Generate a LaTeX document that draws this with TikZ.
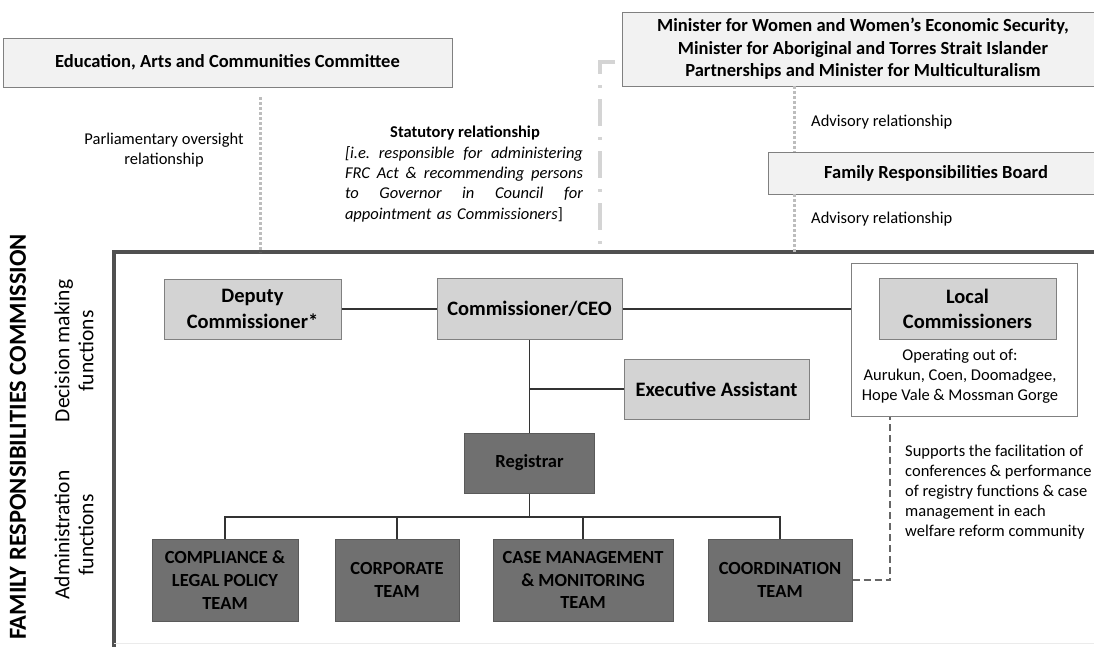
\documentclass[tikz,border=0pt]{standalone}
\usepackage{fontspec}
\setmainfont{Carlito}
\usetikzlibrary{calc}
\frenchspacing
\definecolor{topfill}{HTML}{F2F2F2}
\definecolor{lightfill}{HTML}{D3D3D3}
\definecolor{darkfill}{HTML}{707070}
\definecolor{darkline}{HTML}{5A5A5A}
\definecolor{boxline}{HTML}{808080}
\definecolor{frameline}{HTML}{505050}
\definecolor{dotline}{HTML}{BDBDBD}
\definecolor{dashdotc}{HTML}{D4D4D4}
\tikzset{
  topbox/.style={draw=boxline, fill=topfill, line width=0.9pt, inner sep=0pt, align=center,
    font=\fontsize{18.5}{22.5}\selectfont\bfseries},
  lightbox/.style={draw=boxline, fill=lightfill, line width=1pt, inner sep=0pt, align=center,
    font=\fontsize{20.5}{25.5}\selectfont\bfseries},
  darkbox/.style={draw=darkline, fill=darkfill, line width=1pt, inner sep=0pt, align=center,
    font=\fontsize{18.5}{22.7}\selectfont\bfseries},
  outerbox/.style={draw=boxline, fill=white, line width=1pt, inner sep=0pt},
  link/.style={draw=black!80, line width=1.1pt},
  dotrel/.style={draw=dotline, line width=3pt, dash pattern=on 2.5pt off 2.5pt},
  statrel/.style={draw=dashdotc, line width=3.5pt, dash pattern=on 27pt off 11pt on 3pt off 11pt},
  supportrel/.style={draw=black!60, line width=1.3pt, dash pattern=on 7pt off 4pt},
  lbl/.style={font=\fontsize{16.5}{20}\selectfont, align=center, inner sep=0pt},
}
\begin{document}
\begin{tikzpicture}[x=1pt, y=-1pt]
\useasboundingbox (0,0) rectangle (1094,646);
\clip (0,0) rectangle (1094,646);

% frame of the commission
\coordinate (ftop) at (114,252);
\draw[frameline, line width=3.5pt] (1110,252) -- (ftop) -- (114,660);
\draw[black!8, line width=1pt] (114,643) -- (1110,643);

% top boxes
\node[topbox, minimum width=449pt, minimum height=49pt] (edu) at (227.5,62.5)
  {Education, Arts and Communities Committee};
\node[topbox, minimum width=482pt, minimum height=74pt] (min) at (863,49)
  {Minister for Women and Women’s Economic Security,\\
   Minister for Aboriginal and Torres Strait Islander\\
   Partnerships and Minister for Multiculturalism};
\node[topbox, minimum width=336pt, minimum height=42pt] (frb) at (936,173)
  {Family Responsibilities Board};

% relationships above the frame
\coordinate (parlA) at (260,97);
\draw[dotrel] (parlA) -- (parlA |- ftop);
\coordinate (advx) at (794,0);
\draw[dotrel] (min.south -| advx) -- (frb.north -| advx);
\draw[dotrel] (frb.south -| advx) -- (advx |- ftop);
\coordinate (statA) at (615,62);
\coordinate (statB) at (600,252);
\draw[statrel, line join=miter] (statA) -| (statB);

\node[lbl] (parl) at (164,150) {Parliamentary oversight\\relationship};
\node[font=\fontsize{16.5}{20}\selectfont\bfseries, inner sep=0pt] (stath) at (465,133) {Statutory relationship};
\node[text width=238pt, inner sep=0pt, align=left, font=\fontsize{16.5}{20.4}\selectfont\itshape] (statt) at (464,184)
  {\makebox[238pt][l]{[i.e. \hfill responsible \hfill for \hfill administering}\\
   \makebox[238pt][l]{FRC \hfill Act \hfill \& \hfill recommending \hfill persons}\\
   \makebox[238pt][l]{to \hfill Governor \hfill in \hfill Council \hfill for}\\
   appointment as Commissioners\upshape]};
\node[lbl, anchor=west] (adv1) at (811,122) {Advisory relationship};
\node[lbl, anchor=west] (adv2) at (811,219) {Advisory relationship};

% side labels
\node[rotate=90, inner sep=0pt, font=\fontsize{24.5}{30}\selectfont\bfseries] (title) at (18,437)
  {FAMILY RESPONSIBILITIES COMMISSION};
\node[rotate=90, inner sep=0pt, align=center, font=\fontsize{21.5}{24}\selectfont] (dm) at (74,351)
  {Decision making\\functions};
\node[rotate=90, inner sep=0pt, align=center, font=\fontsize{21.5}{24}\selectfont] (af) at (74,535)
  {Administration\\functions};

% decision making
\node[lightbox, minimum width=177pt, minimum height=60pt] (dep) at (252.5,309) {Deputy\\Commissioner*};
\node[lightbox, minimum width=185pt, minimum height=61pt] (com) at (529.5,309) {Commissioner/CEO};
\node[outerbox, minimum width=226pt, minimum height=153pt] (lout) at (964,339.5) {};
\node[lightbox, minimum width=177pt, minimum height=61pt] (lin) at (967.5,309) {Local\\Commissioners};
\node[lbl] (oper) at (960,376) {Operating out of:\\Aurukun, Coen, Doomadgee,\\Hope Vale \& Mossman Gorge};
\node[lightbox, minimum width=185pt, minimum height=60pt] (exa) at (716.5,389) {Executive Assistant};

% administration
\node[darkbox, minimum width=130pt, minimum height=60pt] (reg) at (529.5,463) {Registrar};
\node[darkbox, minimum width=146pt, minimum height=82pt] (comp) at (225,580) {COMPLIANCE \&\\LEGAL POLICY\\TEAM};
\node[darkbox, minimum width=124pt, minimum height=82pt] (corp) at (397,580) {CORPORATE\\TEAM};
\node[darkbox, minimum width=180pt, minimum height=82pt] (case) at (583,580) {CASE MANAGEMENT\\\& MONITORING\\TEAM};
\node[darkbox, minimum width=144pt, minimum height=82pt] (coord) at (780,580) {COORDINATION\\TEAM};

% connectors
\draw[link] (dep) -- (com);
\draw[link] (com.east) -- (lout.west |- com.east);
\draw[link] (com.south) -- (reg.north);
\draw[link] (exa.west) -- (exa.west -| com.south);
\coordinate (bus) at (529.5,517);
\draw[link] (reg.south) -- (bus);
\draw[link] (comp.north) |- (bus) -| (coord.north);
\draw[link] (corp.north) -- (corp.north |- bus);
\draw[link] (case.north) -- (case.north |- bus);
\coordinate (supx) at (890,0);
\draw[supportrel] (coord.east) -| (lout.south -| supx);

\node[lbl, align=left, anchor=west] (supp) at (905,492.5)
  {Supports the facilitation of\\conferences \& performance\\of registry functions \& case\\management in each\\welfare reform community};
\end{tikzpicture}
\end{document}
